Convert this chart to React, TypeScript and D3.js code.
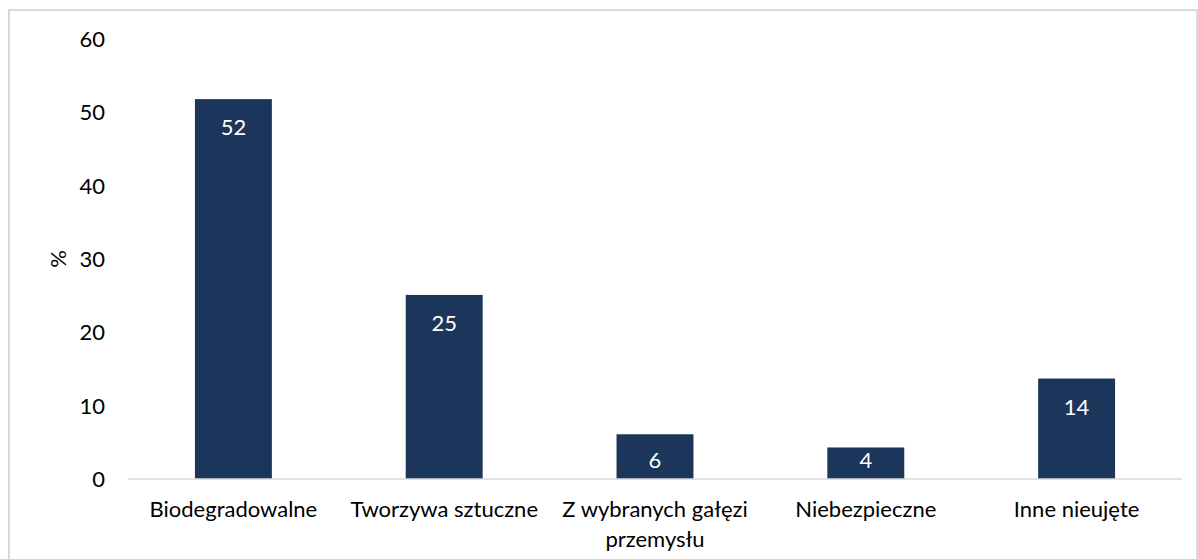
import React, { useEffect, useRef } from "react";
import * as d3 from "d3";

const categories: string[][] = [
  ["Biodegradowalne"],
  ["Tworzywa sztuczne"],
  ["Z wybranych gałęzi", "przemysłu"],
  ["Niebezpieczne"],
  ["Inne nieujęte"],
];
const values: number[] = [51.8, 25.1, 6.1, 4.3, 13.7];
const valueLabels: string[] = ["52", "25", "6", "4", "14"];
const yTicks: number[] = [0, 10, 20, 30, 40, 50, 60];
const yAxisTitle = "%";

const W = 1198;
const H = 559;
const FONT = "Lato, 'Open Sans', sans-serif";
const FS = 22;

export default function App() {
  const ref = useRef<SVGSVGElement | null>(null);

  useEffect(() => {
    const svg = d3.select(ref.current);
    svg.selectAll("*").remove();

    const left = 128, right = 1182, top = 39, bottom = 479;
    const x = d3.scaleBand<number>().domain(d3.range(values.length)).range([left, right]).paddingInner(0.635).paddingOuter(0.3175);
    const y = d3.scaleLinear().domain([0, 60]).range([bottom, top]);

    // border
    svg.append("rect").attr("x", 9).attr("y", 10).attr("width", 1188).attr("height", 600)
      .attr("fill", "white").attr("stroke", "#d9d9d9").attr("stroke-width", 2);

    // bars
    svg.selectAll("rect.bar").data(values).enter().append("rect").attr("class", "bar")
      .attr("x", (_, i) => x(i)!)
      .attr("width", x.bandwidth())
      .attr("y", (d) => y(d))
      .attr("height", (d) => y(0) - y(d))
      .attr("fill", "#1b365a");

    // baseline
    svg.append("line").attr("x1", left).attr("x2", right).attr("y1", y(0)).attr("y2", y(0))
      .attr("stroke", "#d9d9d9").attr("stroke-width", 1.5);

    // value labels
    svg.selectAll("text.val").data(values).enter().append("text").attr("class", "val")
      .attr("x", (_, i) => x(i)! + x.bandwidth() / 2)
      .attr("y", (d) => Math.min(y(d) + 36, y(0) - 11))
      .attr("text-anchor", "middle")
      .attr("fill", "white")
      .attr("font-family", FONT)
      .attr("font-size", FS)
      .text((_, i) => valueLabels[i]);

    // y ticks
    svg.selectAll("text.yt").data(yTicks).enter().append("text").attr("class", "yt")
      .attr("x", 105)
      .attr("y", (d) => y(d) + 8)
      .attr("text-anchor", "end")
      .attr("fill", "#000")
      .attr("font-family", FONT)
      .attr("font-size", FS)
      .text((d) => String(d));

    // y axis title
    svg.append("text")
      .attr("transform", `translate(66, 259) rotate(-90)`)
      .attr("text-anchor", "middle")
      .attr("fill", "#000")
      .attr("font-family", FONT)
      .attr("font-size", FS)
      .text(yAxisTitle);

    // x labels
    categories.forEach((lines, i) => {
      const t = svg.append("text")
        .attr("text-anchor", "middle")
        .attr("fill", "#000")
        .attr("font-family", FONT)
        .attr("font-size", FS);
      lines.forEach((ln, j) => {
        t.append("tspan")
          .attr("x", x(i)! + x.bandwidth() / 2)
          .attr("y", 517 + j * 30)
          .text(ln);
      });
    });
  }, []);

  return (
    <svg ref={ref} width={W} height={H} style={{ position: "absolute", left: 0, top: 0, display: "block" }} />
  );
}
